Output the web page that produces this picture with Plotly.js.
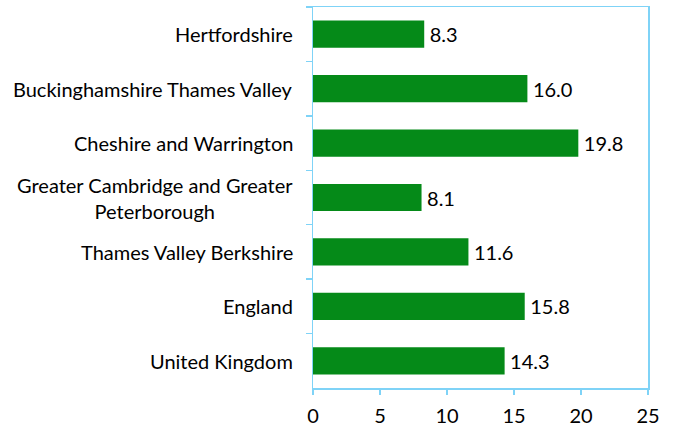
<!DOCTYPE html>
<html><head><meta charset="utf-8">
<script src="https://cdn.plot.ly/plotly-3.0.1.min.js"></script>
<style>body{margin:0;padding:0;background:#fff}#chart{width:674px;height:428px}</style>
</head><body><div id="chart"></div>
<script>
var categories = ["Hertfordshire","Buckinghamshire Thames Valley","Cheshire and Warrington","Greater Cambridge and Greater<br>Peterborough","Thames Valley Berkshire","England","United Kingdom"];
var values = [8.3,16.0,19.8,8.1,11.6,15.8,14.3];
var valueLabels = ["8.3","16.0","19.8","8.1","11.6","15.8","14.3"];
var xTicks = [0,5,10,15,20,25];

var FONT = "Lato, 'Open Sans', sans-serif";
var AXIS = "#7fd3f7";
var ids = categories.map(function(c,i){return "c"+i;});

var trace = {
  type:"bar", orientation:"h",
  x: values, y: ids,
  width: 0.5,
  marker:{color:"#058a18", line:{width:0}},
  text: valueLabels.map(function(t){return "\u2009"+t;}), textposition:"outside",
  textfont:{family:FONT, size:20, color:"#000"},
  cliponaxis:false, hoverinfo:"none"
};

var annotations = categories.map(function(c,i){
  return {x:0, xref:"paper", y:ids[i], yref:"y", text:c, showarrow:false,
    xanchor:"right", yanchor:"middle", align:"center", xshift:-18,
    font:{family:FONT, size:20, color:"#000"}};
});

var layout = {
  width:674, height:428,
  margin:{l:313, r:26, t:7, b:40},
  paper_bgcolor:"#fff", plot_bgcolor:"#fff",
  showlegend:false,
  font:{family:FONT, size:20, color:"#000"},
  xaxis:{range:[0,25], tickvals:xTicks, ticktext:xTicks.map(String),
    showgrid:false, zeroline:false, showline:true, mirror:true,
    linecolor:AXIS, linewidth:1.5, ticks:"outside", ticklen:5, tickcolor:AXIS, tickwidth:1.5,
    ticklabelstandoff:4,
    tickfont:{family:FONT, size:20, color:"#000"}, fixedrange:true},
  yaxis:{type:"category", autorange:"reversed", showticklabels:false,
    showgrid:false, zeroline:false, showline:true, mirror:true,
    linecolor:AXIS, linewidth:1.5, ticks:"outside", tickson:"boundaries", ticklen:6, tickcolor:AXIS, tickwidth:1.5,
    fixedrange:true},
  annotations: annotations
};
Plotly.newPlot("chart",[trace],layout,{displayModeBar:false, staticPlot:true});
</script></body></html>
